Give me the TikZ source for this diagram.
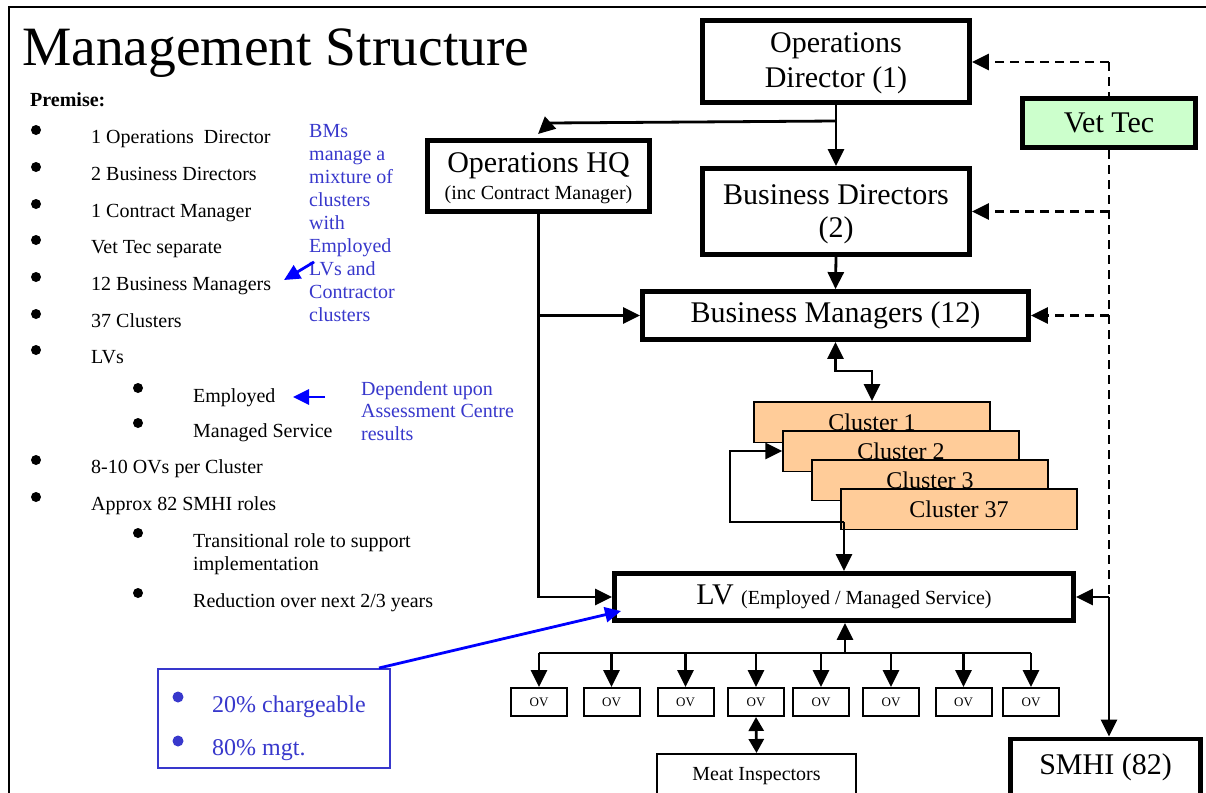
\documentclass[tikz,border=0pt]{standalone}
\usepackage{fontspec}
\setmainfont{Liberation Serif}
\usetikzlibrary{arrows.meta}
\definecolor{peach}{HTML}{FFCC99}
\definecolor{vetgreen}{HTML}{CCFFCC}
\definecolor{notes}{HTML}{3838CC}
\newcommand{\fsz}[1]{\fontsize{#1}{#1}\selectfont}
\begin{document}
\begin{tikzpicture}[x=1pt,y=-1pt,
  thickbox/.style={draw, line width=4.8pt, inner sep=0pt, align=center, font=\fsz{30}},
  thinbox/.style={draw, line width=2pt, inner sep=0pt, align=center},
  clusterbox/.style={draw, fill=peach, line width=1.5pt, minimum width=236pt, minimum height=40.5pt, inner sep=0pt, font=\fsz{24}},
  ovbox/.style={draw, line width=2pt, minimum width=56pt, minimum height=28pt, inner sep=0pt, font=\fsz{13}},
  conn/.style={line width=2.8pt},
  arrowtip/.style={-{Triangle[length=17pt 0 0,width=16pt 0 0]}},
  darrowtip/.style={{Triangle[length=17pt 0 0,width=16pt 0 0]}-{Triangle[length=17pt 0 0,width=16pt 0 0]}},
  smalldtip/.style={{Triangle[length=14pt 0 0,width=15pt 0 0]}-{Triangle[length=14pt 0 0,width=15pt 0 0]}},
  dashline/.style={line width=2.8pt, dash pattern=on 9pt off 6pt},
  listtext/.style={anchor=base west, inner sep=0pt, font=\fsz{20}},
  note/.style={anchor=base west, inner sep=0pt, font=\fsz{20}, text=notes},
  blt/.style={fill=black, circle, inner sep=0pt, minimum size=10pt},
  nblt/.style={fill=notes, circle, inner sep=0pt, minimum size=11pt},
  bluearrow/.style={draw=blue, line width=2.8pt, -{Triangle[length=16pt 0 0,width=15pt 0 0]}, blue},
]
\useasboundingbox (0,0) rectangle (1206,792);
\clip (0,0) rectangle (1206,792);
\fill[white] (0,0) rectangle (1206,792);
% frame
\draw[line width=2pt] (9,800) -- (9,7) -- (1210,7);

% title
\node[anchor=base west, inner sep=0pt, font=\fsz{55.5}] (title) at (22,65) {Management Structure};

% premise list
\node[anchor=base west, inner sep=0pt, font=\fsz{20}\bfseries] (premise) at (30,106) {Premise:};
\foreach \y/\t [count=\i] in {143/{1 Operations\ \ Director}, 180/{2 Business Directors}, 217/{1 Contract Manager}, 253/{Vet Tec separate}, 290/{12 Business Managers}, 327/{37 Clusters}, 363/{LVs}, 473/{8-10 OVs per Cluster}, 510/{Approx 82 SMHI roles}} {
  \node[blt] (b\i) at (36,\y-13) {};
  \node[listtext] (l\i) at (91,\y) {\t};
}
\foreach \y/\t [count=\i] in {402/{Employed}, 437/{Managed Service}, 547/{Transitional role to support}, 607/{Reduction over next 2/3 years}} {
  \node[blt] (sb\i) at (138,\y-14) {};
  \node[listtext] (sl\i) at (193,\y) {\t};
}
\node[listtext] (sl5) at (193,570) {implementation};

% blue notes
\foreach \t [count=\i] in {BMs, manage a, mixture of, clusters, with, Employed, LVs and, Contractor, clusters} {
  \node[note] (bm\i) at (309,{114+23*\i}) {\t};
}
\node[note] (dep1) at (361,395) {Dependent upon};
\node[note] (dep2) at (361,417) {Assessment Centre};
\node[note] (dep3) at (361,440) {results};
\coordinate (na1) at (314,262);
\coordinate (na1t) at (284,280);
\draw[bluearrow] (na1) -- (na1t);
\coordinate (na2) at (325,397);
\coordinate (na2t) at (293,397);
\draw[bluearrow] (na2) -- (na2t);

% percentage box
\node[draw=notes, line width=2pt, minimum width=232pt, minimum height=99pt, inner sep=0pt] (pct) at (274,718) {};
\node[nblt] (pb1) at (178,697) {};
\node[nblt] (pb2) at (178,741) {};
\node[anchor=base west, inner sep=0pt, font=\fsz{24}, text=notes] (p1) at (212,712) {20\% chargeable};
\node[anchor=base west, inner sep=0pt, font=\fsz{24}, text=notes] (p2) at (212,755) {80\% mgt.};

% vet tec dashed line (behind box)
\coordinate (vtop) at (1109,62);
\draw[dashline] (vtop) -- (1109,100);

% main boxes
\node[thickbox, minimum width=267pt, minimum height=82pt] (opdir) at (836,61.5) {};
\node[inner sep=0pt, font=\fsz{30}] (opa) at (836,46) {Operations};
\node[inner sep=0pt, font=\fsz{30}] (opb) at (836,80) {Director (1)};
\node[thickbox, fill=vetgreen, minimum width=173.5pt, minimum height=49.5pt] (vet) at (1109,123) {Vet Tec};
\node[thickbox, minimum width=222.5pt, minimum height=71.5pt] (hq) at (538.5,176) {};
\node[inner sep=0pt, font=\fsz{30}] (hqa) at (538.5,166) {Operations HQ};
\node[inner sep=0pt, font=\fsz{20}] (hqb) at (538.5,195) {(inc Contract Manager)};
\node[thickbox, minimum width=267pt, minimum height=86pt] (bd) at (836,211.5) {};
\node[inner sep=0pt, font=\fsz{30}] (bda) at (836,195) {Business Directors};
\node[inner sep=0pt, font=\fsz{30}] (bdb) at (836,230) {(2)};
\node[thickbox, minimum width=386pt, minimum height=48pt] (bm) at (835.5,315.5) {Business Managers (12)};
\node[thickbox, minimum width=459pt, minimum height=47pt] (lv) at (844,597) {LV {\fsz{20}(Employed / Managed Service)}};
\node[thickbox, minimum width=190pt, minimum height=56pt] (smhi) at (1105.5,767) {SMHI (82)};

% clusters
\node[clusterbox] (c1) at (872,422) {Cluster 1};
\node[clusterbox] (c2) at (901,451) {Cluster 2};
\node[clusterbox] (c3) at (930,480) {Cluster 3};
\node[clusterbox] (c37) at (959,509) {Cluster 37};

% OVs
\foreach \x [count=\i] in {539,611.5,685.5,756,821,891,963.5,1031} {
  \node[ovbox] (ov\i) at (\x,702) {OV};
}
\node[thinbox, minimum width=199pt, minimum height=47pt, font=\fsz{20}] (meat) at (756.5,777.5) {};
\node[inner sep=0pt, font=\fsz{20}] (meatt) at (756.5,776) {Meat Inspectors};

% connectors
\coordinate (j1) at (836,121);
\coordinate (j2) at (550,123);
\coordinate (hqtip) at (538,134);
\draw[conn] (opdir.south) -- (j1);
\draw[conn, arrowtip] (j1) -- (j2) -- (hqtip);
\draw[conn, arrowtip] (opdir.south) -- (bd.north);
\draw[conn, arrowtip] (bd.south) -- (bm.north);
\draw[conn, arrowtip] (hq.south) -- (hq.south |- lv.west) -- (lv.west);
\draw[conn, arrowtip] (hq.south |- bm.west) -- (bm.west);

% vet tec links
\draw[dashline, arrowtip] (vtop) -- (opdir.east |- vtop);
\coordinate (vj) at (vet.south |- lv.east);
\draw[dashline] (vet.south) -- (vj);
\draw[dashline, arrowtip] (vet.south |- bd.east) -- (bd.east);
\draw[dashline, arrowtip] (vet.south |- bm.east) -- (bm.east);
\draw[conn, arrowtip] (vj) -- (lv.east);
\draw[conn, arrowtip] (vj) -- (vj |- smhi.north);

% BM <-> clusters
\draw[conn, darrowtip] (bm.south) -- ++(0,29) -| (c1.north);

% cluster loop
\coordinate (lj) at (844,522);
\coordinate (lk) at (730,522);
\draw[conn, arrowtip] (lj) -- (lj |- lv.north);
\draw[conn, arrowtip] (lj) -- (lk) |- (c2.west);

% OV bus
\coordinate (bus) at (845,653);
\draw[conn, arrowtip] (bus) -- (bus |- lv.south);
\draw[conn] (ov1.north |- bus) -- (ov8.north |- bus);
\foreach \i in {1,...,8} {
  \draw[conn, arrowtip] (ov\i.north |- bus) -- (ov\i.north);
}
\draw[conn, smalldtip] (ov4.south) -- (meat.north);

% blue annotation arrow to LV
\coordinate (pcorner) at (379,668);
\coordinate (lvp) at (621,611);
\draw[bluearrow] (pcorner) -- (lvp);
\end{tikzpicture}
\end{document}
